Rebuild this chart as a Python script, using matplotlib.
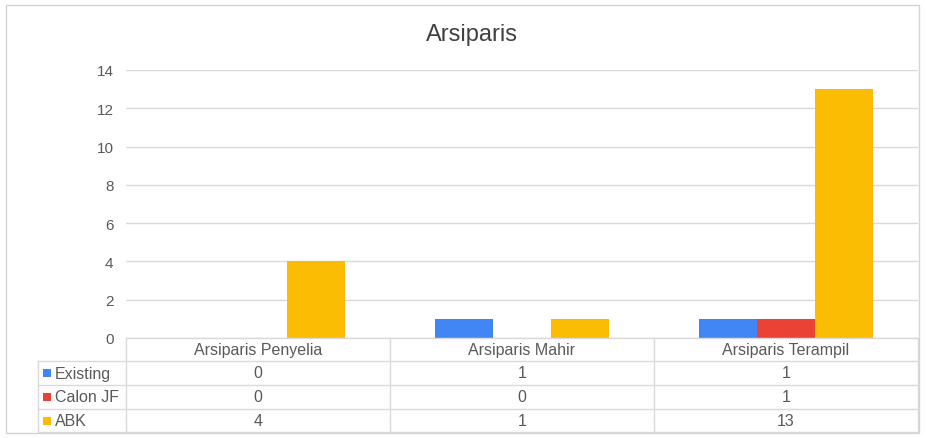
import matplotlib
matplotlib.use("Agg")
import matplotlib.pyplot as plt
from matplotlib.patches import Rectangle
from matplotlib.lines import Line2D

plt.rcParams['font.family'] = ['Liberation Sans', 'DejaVu Sans']

title = "Arsiparis"
categories = ["Arsiparis Penyelia", "Arsiparis Mahir", "Arsiparis Terampil"]
series_names = ["Existing", "Calon JF", "ABK"]
existing = [0, 1, 1]
calon_jf = [0, 0, 1]
abk = [4, 1, 13]
yticks = [0, 2, 4, 6, 8, 10, 12, 14]
colors = ["#4285F4", "#EA4335", "#FBBC04"]

series = [existing, calon_jf, abk]
W, H = 926, 439
fig = plt.figure(figsize=(W / 100, H / 100), dpi=100)
fig.patch.set_facecolor("white")


def fx(px):
    return px / W


def fy(py):
    return 1 - py / H


# outer chart border
fig.patches.append(Rectangle((fx(6), fy(434)), (919 - 6) / W, (434 - 6) / H,
                             transform=fig.transFigure, fill=False,
                             edgecolor="#d4d4d4", linewidth=1.0))

L, R, T, B = 126, 918, 71, 339
ax = fig.add_axes([L / W, 1 - B / H, (R - L) / W, (B - T) / H])
ax.set_xlim(-0.5, 2.5)
ax.set_ylim(0, 14)

bw = 0.22
x = list(range(len(categories)))
for k, (vals, col) in enumerate(zip(series, colors)):
    ax.bar([xi + (k - 1) * bw for xi in x], vals, width=bw, color=col, zorder=3)

ax.set_yticks(yticks)
ax.set_yticklabels([str(v) for v in yticks], fontsize=11, color="#595959")
ax.tick_params(axis='y', length=0, pad=9)
ax.set_xticks([])
ax.grid(axis='y', color="#d9d9d9", linewidth=1.0, zorder=0)
for s in ax.spines.values():
    s.set_visible(False)

fig.text(fx(472), fy(35), title, ha='center', va='center', fontsize=17, color="#404040")

# ---- data table (drawn manually) ----
edge = "#d9d9d9"
tcol = "#595959"
tx0 = 38
row_y = [339, 362, 386, 410, 433]           # horizontal rule positions
col_x = [L, 390, 654, R]                     # column boundaries


def hline(y, x0, x1):
    fig.add_artist(Line2D([fx(x0), fx(x1)], [fy(y), fy(y)], transform=fig.transFigure,
                          color=edge, linewidth=1.0))


def vline(x, y0, y1):
    fig.add_artist(Line2D([fx(x), fx(x)], [fy(y0), fy(y1)], transform=fig.transFigure,
                          color=edge, linewidth=1.0))


hline(row_y[0], L, R)
for y in row_y[1:]:
    hline(y, tx0, R)
vline(tx0, row_y[1], row_y[-1])
for xx in col_x:
    vline(xx, row_y[0], row_y[-1])

fs = 11.5
for j, c in enumerate(categories):
    xc = (col_x[j] + col_x[j + 1]) / 2
    yc = (row_y[0] + row_y[1]) / 2
    fig.text(fx(xc), fy(yc), c, ha='center', va='center', fontsize=fs, color=tcol)

for i, (name, vals, col) in enumerate(zip(series_names, series, colors)):
    yc = (row_y[i + 1] + row_y[i + 2]) / 2
    fig.patches.append(Rectangle((fx(43), fy(yc + 4)), 8 / W, 8 / H, transform=fig.transFigure,
                                 facecolor=col, edgecolor='none'))
    fig.text(fx(55), fy(yc), name, ha='left', va='center', fontsize=fs, color=tcol)
    for j, v in enumerate(vals):
        xc = (col_x[j] + col_x[j + 1]) / 2
        fig.text(fx(xc), fy(yc), str(v), ha='center', va='center', fontsize=fs, color=tcol)

fig.savefig("out.png", dpi=100)
